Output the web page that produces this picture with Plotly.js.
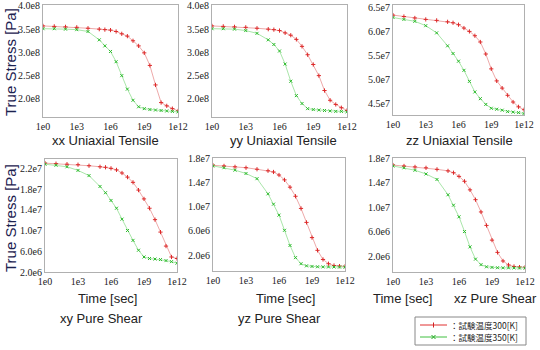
<!DOCTYPE html>
<html>
<head>
<meta charset="utf-8">
<script src="https://cdn.plot.ly/plotly-3.0.1.min.js"></script>
<style>html,body{margin:0;padding:0;background:#fff;}#chart{width:540px;height:350px;}</style>
</head>
<body>
<div id="chart"></div>
<script>
// Time grid [sec]
const time = [1, 10, 100, 1e3, 1e4, 1e5, 3.16e5, 1e6, 3.16e6, 1e7, 3.16e7, 1e8, 3.16e8, 1e9, 3.16e9, 1e10, 3.16e10, 1e11, 3.16e11, 1e12];

// xx Uniaxial Tensile (x 1e8 Pa)
const xx300 = [3.57, 3.56, 3.55, 3.54, 3.52, 3.50, 3.49, 3.48, 3.45, 3.40, 3.35, 3.25, 3.14, 2.99, 2.72, 2.30, 1.92, 1.85, 1.79, 1.74];
const xx350 = [3.51, 3.51, 3.50, 3.49, 3.45, 3.27, 3.14, 3.02, 2.80, 2.50, 2.21, 1.97, 1.83, 1.79, 1.77, 1.76, 1.75, 1.74, 1.73, 1.72];
// yy Uniaxial Tensile (x 1e8 Pa)
const yy300 = [3.57, 3.56, 3.55, 3.54, 3.52, 3.50, 3.49, 3.47, 3.42, 3.37, 3.28, 3.13, 2.95, 2.74, 2.50, 2.18, 1.97, 1.88, 1.81, 1.75];
const yy350 = [3.51, 3.51, 3.50, 3.47, 3.41, 3.27, 3.17, 3.03, 2.75, 2.38, 2.07, 1.90, 1.79, 1.77, 1.76, 1.75, 1.74, 1.73, 1.73, 1.72];
// zz Uniaxial Tensile (x 1e7 Pa)
const zz300 = [6.34, 6.31, 6.28, 6.25, 6.23, 6.20, 6.18, 6.14, 6.07, 6.00, 5.91, 5.78, 5.53, 5.22, 4.97, 4.82, 4.67, 4.53, 4.43, 4.37];
const zz350 = [6.29, 6.25, 6.21, 6.12, 5.97, 5.70, 5.54, 5.38, 5.19, 4.96, 4.74, 4.60, 4.48, 4.40, 4.38, 4.36, 4.33, 4.32, 4.31, 4.29];
// xy Pure Shear (x 1e7 Pa)
const xy300 = [2.30, 2.29, 2.28, 2.27, 2.25, 2.23, 2.22, 2.20, 2.17, 2.11, 2.03, 1.93, 1.78, 1.61, 1.43, 1.21, 0.97, 0.70, 0.49, 0.46];
const xy350 = [2.28, 2.26, 2.23, 2.16, 2.06, 1.85, 1.73, 1.58, 1.43, 1.22, 1.00, 0.81, 0.62, 0.49, 0.46, 0.45, 0.44, 0.42, 0.40, 0.37];
// yz Pure Shear (x 1e6 Pa)
const yz300 = [16.8, 16.7, 16.55, 16.4, 16.15, 15.9, 15.7, 15.2, 14.4, 13.2, 11.7, 9.7, 7.4, 4.9, 2.8, 1.3, 0.6, 0.3, 0.2, 0.15];
const yz350 = [16.7, 16.4, 16.0, 15.45, 14.6, 12.1, 10.4, 8.6, 6.1, 3.6, 1.6, 0.6, 0.25, 0.15, 0.1, 0.08, 0.07, 0.06, 0.05, 0.05];
// xz Pure Shear (x 1e6 Pa)
const xz300 = [16.85, 16.7, 16.55, 16.4, 16.15, 15.9, 15.6, 15.0, 14.2, 12.8, 11.2, 9.2, 7.0, 4.6, 2.6, 1.2, 0.55, 0.3, 0.2, 0.15];
const xz350 = [16.7, 16.4, 16.0, 15.4, 14.5, 12.0, 10.3, 8.4, 6.0, 3.5, 1.5, 0.6, 0.25, 0.15, 0.1, 0.08, 0.07, 0.06, 0.05, 0.05];

// tick labels
const xTickVals = [1, 1e3, 1e6, 1e9, 1e12];
const xTickText = ["1e0", "1e3", "1e6", "1e9", "1e12"];
const yTicksE8 = [2.0, 2.5, 3.0, 3.5, 4.0];
const yTextE8 = ["2.0e8", "2.5e8", "3.0e8", "3.5e8", "4.0e8"];
const yTicksZZ = [4.5, 5.0, 5.5, 6.0, 6.5];
const yTextZZ = ["4.5e7", "5.0e7", "5.5e7", "6.0e7", "6.5e7"];
const yTicksXY = [2.0e6, 6.0e6, 1.0e7, 1.4e7, 1.8e7, 2.2e7];
const yTextXY = ["2.0e6", "6.0e6", "1.0e7", "1.4e7", "1.8e7", "2.2e7"];
const yTicksS = [2.0e6, 6.0e6, 1.0e7, 1.4e7, 1.8e7];
const yTextS = ["2.0e6", "6.0e6", "1.0e7", "1.4e7", "1.8e7"];

const legend300 = "：試験温度300[K]";
const legend350 = "：試験温度350[K]";

const RED_LINE = '#eeaaaa', RED_MK = '#dd2a2a';
const GRN_LINE = '#aae6aa', GRN_MK = '#2cbb2c';

const panels = [
  {r: xx300, g: xx350, s: 1e8},
  {r: yy300, g: yy350, s: 1e8},
  {r: zz300, g: zz350, s: 1e7},
  {r: xy300, g: xy350, s: 1e7},
  {r: yz300, g: yz350, s: 1e6},
  {r: xz300, g: xz350, s: 1e6}
];

const traces = [];
panels.forEach((p, i) => {
  const ax = i === 0 ? '' : String(i + 1);
  traces.push({
    x: time, y: p.r.map(v => v * p.s), xaxis: 'x' + ax, yaxis: 'y' + ax,
    type: 'scatter', mode: 'lines+markers', name: legend300, showlegend: false,
    line: {color: RED_LINE, width: 1},
    marker: {symbol: 'cross-thin', size: 3, color: RED_MK, line: {color: RED_MK, width: 1}}
  });
  traces.push({
    x: time, y: p.g.map(v => v * p.s), xaxis: 'x' + ax, yaxis: 'y' + ax,
    type: 'scatter', mode: 'lines+markers', name: legend350, showlegend: false,
    line: {color: GRN_LINE, width: 1},
    marker: {symbol: 'x-thin', size: 3, color: GRN_MK, line: {color: GRN_MK, width: 1}}
  });
});

const W = 540, H = 350;
function dx(a, b) { return [a / W, b / W]; }
function dy(top, bot) { return [1 - bot / H, 1 - top / H]; }

const tickFont = {family: 'Liberation Serif', size: 10, color: '#222'};
function xa(dom, anchor) {
  return {type: 'log', domain: dom, anchor: anchor, range: [0, 12],
    tickvals: xTickVals, ticktext: xTickText, tickfont: tickFont,
    showline: true, mirror: true, linecolor: '#b0b0b0', linewidth: 1,
    showgrid: false, zeroline: false, ticks: ''};
}
function ya(dom, anchor, range, vals, text) {
  return {domain: dom, anchor: anchor, range: range,
    tickvals: vals, ticktext: text, tickfont: tickFont,
    showline: true, mirror: true, linecolor: '#b0b0b0', linewidth: 1,
    showgrid: false, zeroline: false, ticks: ''};
}

const sub = {family: 'Liberation Sans', size: 13, color: '#222'};
const ytf = {family: 'Liberation Sans', size: 15, color: '#1c2250'};
const legFont = {family: 'Noto Sans CJK JP', size: 8.5, color: '#222'};
function ann(text, px, py, font, rot, xanchor) {
  return {text: text, x: px / W, y: 1 - py / H, xref: 'paper', yref: 'paper',
    showarrow: false, font: font, textangle: rot || 0, xanchor: xanchor || 'center', yanchor: 'middle'};
}

// custom legend geometry (paper px)
const LG = {x0: 415, x1: 526, y0: 317, y1: 345, lx0: 420, lx1: 447, ry: 325, gy: 337, tx: 448};
function P(px, py) { return [px / W, 1 - py / H]; }
function line(x0, y0, x1, y1, color, width) {
  const a = P(x0, y0), b = P(x1, y1);
  return {type: 'line', xref: 'paper', yref: 'paper', x0: a[0], y0: a[1], x1: b[0], y1: b[1],
    line: {color: color, width: width}};
}
const mx = (LG.lx0 + LG.lx1) / 2;
const shapes = [
  (function () { const a = P(LG.x0, LG.y1), b = P(LG.x1, LG.y0);
    return {type: 'rect', xref: 'paper', yref: 'paper', x0: a[0], y0: a[1], x1: b[0], y1: b[1],
      line: {color: '#888', width: 1}, fillcolor: 'rgba(0,0,0,0)'}; })(),
  line(LG.lx0, LG.ry, LG.lx1, LG.ry, '#e03030', 1),
  line(mx, LG.ry - 2.5, mx, LG.ry + 2.5, '#d02020', 1),
  line(LG.lx0, LG.gy, LG.lx1, LG.gy, '#40c040', 1),
  line(mx - 2, LG.gy - 2, mx + 2, LG.gy + 2, '#22aa22', 1),
  line(mx - 2, LG.gy + 2, mx + 2, LG.gy - 2, '#22aa22', 1)
];

const layout = {
  width: W, height: H,
  margin: {l: 0, r: 0, t: 0, b: 0},
  paper_bgcolor: '#fff', plot_bgcolor: '#fff',
  showlegend: false,
  xaxis: xa(dx(43, 178), 'y'),
  yaxis: ya(dy(5, 117), 'x', [1.61e8, 4.02e8], yTicksE8.map(v => v * 1e8), yTextE8),
  xaxis2: xa(dx(212, 347), 'y2'),
  yaxis2: ya(dy(5, 117), 'x2', [1.61e8, 4.02e8], yTicksE8.map(v => v * 1e8), yTextE8),
  xaxis3: xa(dx(393, 524), 'y3'),
  yaxis3: ya(dy(5, 115), 'x3', [4.26e7, 6.55e7], yTicksZZ.map(v => v * 1e7), yTextZZ),
  xaxis4: xa(dx(45, 177), 'y4'),
  yaxis4: ya(dy(159, 272), 'x4', [2.0e6, 2.38e7], yTicksXY, yTextXY),
  xaxis5: xa(dx(213, 345), 'y5'),
  yaxis5: ya(dy(158, 271), 'x5', [-0.6e6, 1.8e7], yTicksS, yTextS),
  xaxis6: xa(dx(393, 525), 'y6'),
  yaxis6: ya(dy(158, 272), 'x6', [-0.6e6, 1.8e7], yTicksS, yTextS),
  shapes: shapes,
  annotations: [
    ann('True Stress [Pa]', 10, 62, ytf, -90),
    ann('True Stress [Pa]', 10, 218, ytf, -90),
    ann('xx Uniaxial Tensile', 105, 140, sub),
    ann('yy Uniaxial Tensile', 283, 140, sub),
    ann('zz Uniaxial Tensile', 459, 140, sub),
    ann('Time [sec]', 107, 298, sub),
    ann('xy Pure Shear', 101, 318, sub),
    ann('Time [sec]', 285, 298, sub),
    ann('yz Pure Shear', 279, 318, sub),
    ann('Time [sec]', 402, 298, sub),
    ann('xz Pure Shear', 495, 298, sub),
    ann(legend300, LG.tx, LG.ry, legFont, 0, 'left'),
    ann(legend350, LG.tx, LG.gy, legFont, 0, 'left')
  ]
};

Plotly.newPlot('chart', traces, layout, {displayModeBar: false, staticPlot: true});
</script>
</body>
</html>
